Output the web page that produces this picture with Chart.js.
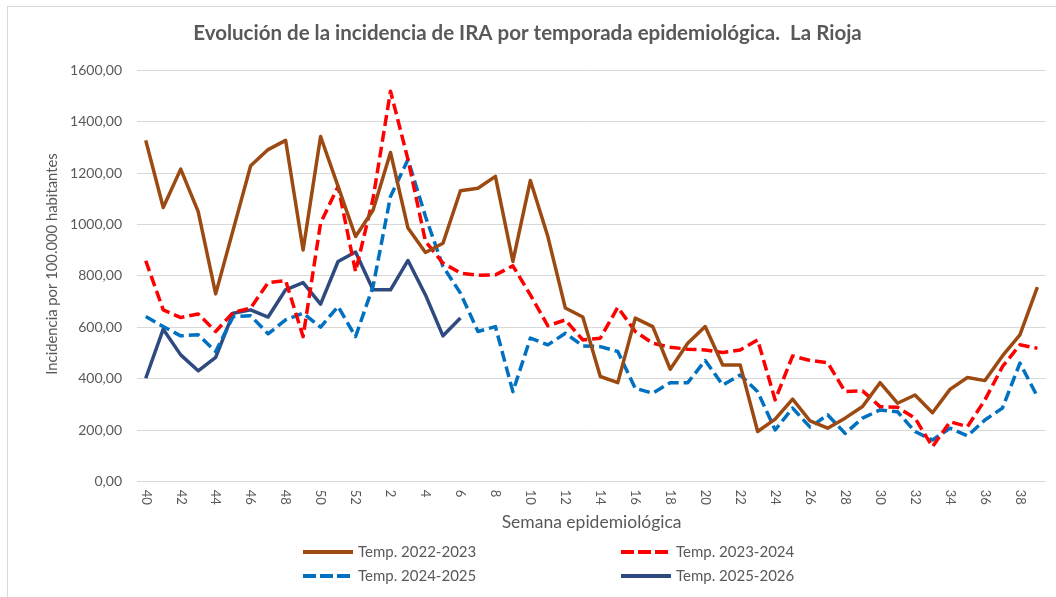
<!DOCTYPE html>
<html>
<head>
<meta charset="utf-8">
<script src="https://cdn.jsdelivr.net/npm/chart.js@4.4.1/dist/chart.umd.min.js"></script>
<style>
  html, body { margin: 0; padding: 0; background: #ffffff; }
  #wrap { position: absolute; left: 0; top: 0; width: 1056px; height: 597px; }
</style>
</head>
<body>
<div id="wrap"><canvas id="c" width="1056" height="597"></canvas></div>
<script>
const weeks = ['40','41','42','43','44','45','46','47','48','49','50','51','52',
  '1','2','3','4','5','6','7','8','9','10','11','12','13','14','15','16','17','18','19','20',
  '21','22','23','24','25','26','27','28','29','30','31','32','33','34','35','36','37','38','39'];

const temp2022 = [1327,1066,1215,1050,730,979,1228,1291,1327,901,1342,1148,953,
  1055,1280,986,891,927,1131,1141,1187,856,1171,953,675,640,409,385,636,603,437,538,603,
  454,454,195,243,321,236,208,247,292,385,305,337,268,359,405,393,489,571,756];

const temp2023 = [859,668,638,652,584,658,675,774,782,564,1005,1148,817,
  1100,1518,1252,934,850,811,802,804,839,726,606,629,551,558,678,584,538,523,515,512,
  502,512,551,318,489,471,463,350,353,292,289,247,136,233,214,318,447,532,519];

const temp2024 = [642,603,567,571,506,642,645,575,629,655,601,681,564,
  759,1109,1252,1031,837,733,584,603,350,558,532,577,528,525,506,363,344,385,385,471,
  376,415,350,201,286,212,260,188,247,279,272,195,162,208,178,240,286,461,331];

const temp2025 = [402,593,493,431,483,655,668,640,746,774,690,856,893,
  746,746,860,726,567,636];

const seriesNames = ['Temp. 2022-2023','Temp. 2023-2024','Temp. 2024-2025','Temp. 2025-2026'];
const yTitle = 'Incidencia por 100.000 habitantes';
const yTicksMax = 1600;
const yStep = 200;

const TEXT = '#595959';
const FONT = 'Lato, "Open Sans", sans-serif';

const frame = {
  id: 'frame',
  beforeDraw(chart) {
    const ctx = chart.ctx;
    ctx.save();
    ctx.fillStyle = '#ffffff';
    ctx.fillRect(0, 0, chart.width, chart.height);
    ctx.strokeStyle = '#D9D9D9';
    ctx.lineWidth = 1;
    ctx.strokeRect(7.5, 6.5, chart.width, chart.height);
    ctx.restore();
  }
};

const textPlugin = {
  id: 'textPlugin',
  afterDraw(chart) {
    const xs = chart.scales.x;
    const ctx = chart.ctx;
    ctx.save();
    // x tick labels, rotated clockwise (read top to bottom)
    ctx.font = '13px ' + FONT;
    ctx.fillStyle = TEXT;
    ctx.textAlign = 'left';
    ctx.textBaseline = 'middle';
    xs.ticks.forEach((t, i) => {
      if (t.value % 2 !== 0) return;
      const lab = xs.getLabelForValue(t.value);
      const x = xs.getPixelForTick(i);
      ctx.save();
      ctx.translate(x, xs.top + 8);
      ctx.rotate(Math.PI / 2);
      ctx.fillText(lab, 0, 0);
      ctx.restore();
    });
    // y axis title
    ctx.font = '14.8px ' + FONT;
    ctx.textAlign = 'center';
    ctx.textBaseline = 'middle';
    ctx.save();
    ctx.translate(52, 264);
    ctx.rotate(-Math.PI / 2);
    ctx.fillText(yTitle, 0, 0);
    ctx.restore();
    ctx.restore();
  }
};

const legendGrid = {
  id: 'legendGrid',
  afterDraw(chart) {
    const ctx = chart.ctx;
    const cols = [303, 621];
    const rows = [552, 576];
    ctx.save();
    ctx.font = '15px ' + FONT;
    ctx.textBaseline = 'middle';
    ctx.textAlign = 'left';
    chart.data.datasets.forEach((ds, i) => {
      const x = cols[i % 2];
      const y = rows[Math.floor(i / 2)];
      ctx.save();
      ctx.strokeStyle = ds.borderColor;
      ctx.lineWidth = 4;
      ctx.lineCap = 'butt';
      ctx.setLineDash(ds.borderDash && ds.borderDash.length ? [13, 4] : []);
      ctx.beginPath();
      ctx.moveTo(x, y);
      ctx.lineTo(x + 50, y);
      ctx.stroke();
      ctx.restore();
      ctx.fillStyle = TEXT;
      ctx.fillText(ds.label, x + 55, y);
    });
    ctx.restore();
  }
};

new Chart(document.getElementById('c'), {
  type: 'line',
  data: {
    labels: weeks,
    datasets: [
      { label: seriesNames[0], data: temp2022, borderColor: '#9C4A12', borderWidth: 3.5, borderDash: [] },
      { label: seriesNames[1], data: temp2023, borderColor: '#FF0000', borderWidth: 3.5, borderDash: [11, 5] },
      { label: seriesNames[2], data: temp2024, borderColor: '#0070C0', borderWidth: 3.5, borderDash: [11, 5] },
      { label: seriesNames[3], data: temp2025, borderColor: '#2E4A7E', borderWidth: 3.5, borderDash: [] }
    ]
  },
  options: {
    responsive: false,
    animation: false,
    devicePixelRatio: 1,
    layout: { padding: { left: 0, right: 1, top: 0, bottom: 64.5 } },
    elements: {
      point: { radius: 0, hoverRadius: 0 },
      line: { tension: 0, borderJoinStyle: 'round', borderCapStyle: 'butt', fill: false }
    },
    plugins: {
      legend: { display: false },
      tooltip: { enabled: false },
      title: {
        display: true,
        text: 'Evolución de la incidencia de IRA por temporada epidemiológica.  La Rioja',
        color: TEXT,
        font: { family: FONT, size: 20.5, weight: 'bold' },
        padding: { top: 21, bottom: 24.5 }
      }
    },
    scales: {
      x: {
        type: 'category',
        offset: true,
        grid: { display: false },
        border: { display: false },
        ticks: {
          autoSkip: false,
          minRotation: 90,
          maxRotation: 90,
          color: 'rgba(0,0,0,0)',
          font: { family: FONT, size: 13 },
          callback: function (v, i) { return i % 2 === 0 ? this.getLabelForValue(v) : ''; }
        },
        title: {
          display: true,
          text: 'Semana epidemiológica',
          color: TEXT,
          font: { family: FONT, size: 17.5 },
          padding: { top: 0, bottom: 0 }
        },
        afterFit(scale) { scale.height = 50.8; }
      },
      y: {
        min: 0,
        max: yTicksMax,
        grid: { color: '#D9D9D9', lineWidth: 1, drawTicks: false },
        border: { display: false },
        ticks: {
          stepSize: yStep,
          padding: 15,
          color: TEXT,
          font: { family: FONT, size: 14 },
          callback: (v) => v.toFixed(2).replace('.', ',')
        },
        title: { display: false, text: yTitle },
        afterFit(scale) { scale.width = 137; }
      }
    }
  },
  plugins: [frame, textPlugin, legendGrid]
});
</script>
</body>
</html>
